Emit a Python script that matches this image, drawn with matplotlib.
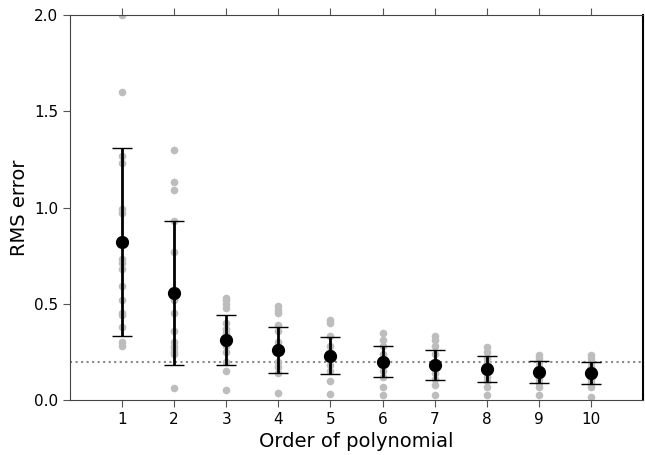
import numpy as np
import matplotlib.pyplot as plt

# polynomial order vs RMS error on held-out data
orders = [1, 2, 3, 4, 5, 6, 7, 8, 9, 10]

rms_samples = [
    [2.0, 1.60, 1.27, 1.23, 0.99, 0.97, 0.73, 0.71, 0.68, 0.59, 0.52, 0.45, 0.44, 0.38, 0.30, 0.28],
    [1.30, 1.13, 1.09, 0.93, 0.77, 0.55, 0.52, 0.45, 0.36, 0.30, 0.28, 0.27, 0.25, 0.24, 0.06],
    [0.53, 0.52, 0.50, 0.48, 0.40, 0.37, 0.35, 0.30, 0.28, 0.25, 0.20, 0.15, 0.05],
    [0.49, 0.47, 0.45, 0.39, 0.36, 0.30, 0.27, 0.25, 0.20, 0.17, 0.14, 0.035],
    [0.415, 0.40, 0.33, 0.28, 0.25, 0.22, 0.18, 0.15, 0.10, 0.03],
    [0.35, 0.31, 0.28, 0.24, 0.21, 0.18, 0.15, 0.12, 0.07, 0.025],
    [0.33, 0.31, 0.28, 0.24, 0.20, 0.17, 0.14, 0.11, 0.08, 0.025],
    [0.275, 0.25, 0.22, 0.19, 0.16, 0.14, 0.12, 0.10, 0.07, 0.025],
    [0.235, 0.22, 0.20, 0.17, 0.15, 0.13, 0.11, 0.09, 0.07, 0.025],
    [0.235, 0.22, 0.20, 0.17, 0.15, 0.13, 0.11, 0.09, 0.07, 0.015],
]

rms_mean = [0.82, 0.556, 0.31, 0.26, 0.23, 0.20, 0.18, 0.16, 0.145, 0.14]
rms_std = [0.49, 0.372, 0.13, 0.12, 0.097, 0.08, 0.078, 0.067, 0.058, 0.057]

noise_level = 0.2

fig = plt.figure(figsize=(6.45, 4.55), dpi=100)
ax = fig.add_axes([70 / 645, 55 / 455, 573 / 645, 385 / 455])

for order, samples in zip(orders, rms_samples):
    ax.plot([order] * len(samples), samples, 'o', color='#bdbdbd',
            markersize=5.5, markeredgewidth=0, zorder=1)

ax.errorbar(orders, rms_mean, yerr=rms_std, fmt='o', color='black',
            markersize=8.5, elinewidth=2, capsize=7, capthick=1, zorder=3)

ax.axhline(noise_level, color='#888888', linestyle=':', linewidth=1.5, zorder=0)

ax.set_xlim(0, 11)
ax.set_ylim(0, 2.0)
ax.set_xticks(orders)
ax.set_yticks([0.0, 0.5, 1.0, 1.5, 2.0])
ax.set_xlabel('Order of polynomial', fontsize=14)
ax.set_ylabel('RMS error', fontsize=14)

ax.tick_params(axis='both', labelsize=11, direction='out', length=5,
               color='#555555', top=True, right=False)
for side in ['left', 'bottom', 'top']:
    ax.spines[side].set_color('#444444')
ax.spines['right'].set_color('black')
ax.spines['right'].set_linewidth(1.5)

fig.savefig('out.png', dpi=100)
